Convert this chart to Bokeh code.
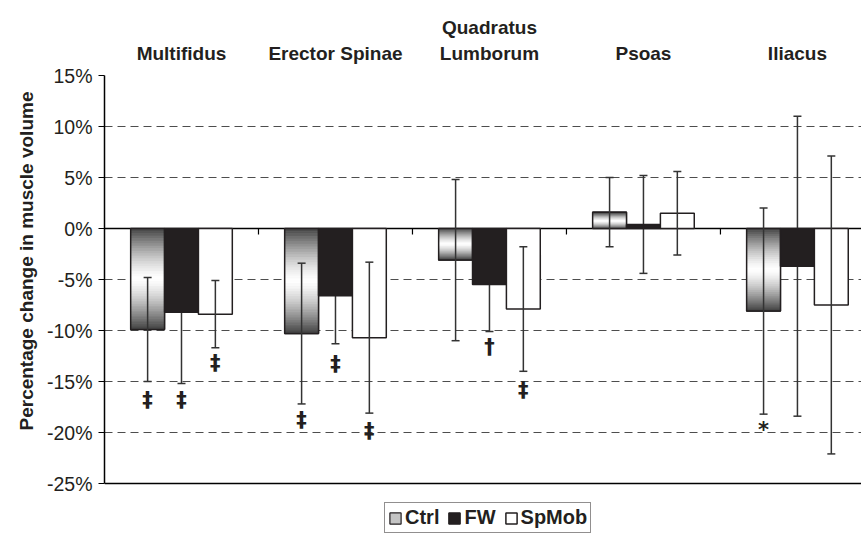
from bokeh.plotting import figure
from bokeh.models import (Range1d, LinearAxis, FixedTicker, PrintfTickFormatter, Whisker,
                          TeeHead, ColumnDataSource, Span, Legend, LegendItem, Title)
from bokeh.core.properties import value
from bokeh.embed import file_html
from bokeh.resources import INLINE

# ---------------- data ----------------
categories = ["Multifidus", "Erector Spinae", "Quadratus\nLumborum", "Psoas", "Iliacus"]
series_names = ["Ctrl", "FW", "SpMob"]
ctrl = [-9.9, -10.3, -3.1, 1.6, -8.1]
ctrl_err = [5.1, 6.9, 7.9, 3.4, 10.1]
fw = [-8.2, -6.6, -5.5, 0.4, -3.7]
fw_err = [7.0, 4.7, 4.6, 4.8, 14.7]
spmob = [-8.4, -10.7, -7.9, 1.5, -7.5]
spmob_err = [3.3, 7.4, 6.1, 4.1, 14.6]
y_ticks = [-25, -20, -15, -10, -5, 0, 5, 10, 15]
grid_ticks = [-20, -15, -10, -5, 5, 10]
y_min, y_max = -25, 15
y_title = "Percentage change in muscle volume"

# significance markers: (category index, series index, y position, symbol)
ann_group = [0, 0, 0, 1, 1, 1, 2, 2, 4]
ann_series = [0, 1, 2, 0, 1, 2, 1, 2, 0]
ann_y = [-16.8, -16.8, -13.2, -18.8, -13.3, -19.9, -11.6, -15.8, -19.8]
ann_sym = ["‡", "‡", "‡", "‡", "‡", "‡", "†", "‡", "*"]

# ---------------- styling ----------------
FONT = "Liberation Sans"
BAR_W = 0.22
OFFSETS = [-0.22, 0.0, 0.22]
DARK = "#231f20"
ERR = "#333333"

n = len(categories)
centers = [i + 0.5 for i in range(n)]

# the frame extends below -25% to leave room for the legend
p = figure(width=861, height=534, x_range=Range1d(0, 4.916), y_range=Range1d(-30, 15),
           output_backend="svg", toolbar_location=None, x_axis_location=None,
           min_border_left=104, min_border_right=0, min_border_top=75, min_border_bottom=0,
           background_fill_color="white", border_fill_color="white")
p.outline_line_color = None

# grid
p.xgrid.visible = False
p.ygrid.ticker = FixedTicker(ticks=grid_ticks)
p.ygrid.grid_line_color = "#4d4d4d"
p.ygrid.grid_line_dash = "8 5"
p.ygrid.grid_line_width = 1.2

# y axis
p.yaxis.bounds = (y_min, y_max)
p.yaxis.ticker = FixedTicker(ticks=y_ticks)
p.yaxis.formatter = PrintfTickFormatter(format="%d%%")
p.yaxis.major_label_text_font = FONT
p.yaxis.major_label_text_font_size = "19.5px"
p.yaxis.major_label_text_color = DARK
p.yaxis.axis_line_color = "black"
p.yaxis.axis_line_width = 1.5
p.yaxis.major_tick_line_color = "black"
p.yaxis.major_tick_line_width = 1.2
p.yaxis.major_tick_out = 6
p.yaxis.major_tick_in = 0
p.yaxis.minor_tick_line_color = None
p.yaxis.major_label_standoff = 6

# y title, placed to match the original (starting near the bottom of the axis)
ttl = Title(text=y_title, align="left", offset=104, standoff=14,
            text_font=FONT, text_font_style="bold", text_font_size="19px",
            text_color=DARK)
p.add_layout(ttl, "left")

# top category axis
top = LinearAxis(ticker=FixedTicker(ticks=centers),
                 major_label_overrides={c: lab for c, lab in zip(centers, categories)})
top.axis_line_color = None
top.major_tick_line_color = None
top.minor_tick_line_color = None
top.major_label_text_font = FONT
top.major_label_text_font_style = "bold"
top.major_label_text_font_size = "19px"
top.major_label_text_color = DARK
top.major_label_standoff = 6
p.add_layout(top, "above")

# zero line, bottom line and category separators
p.add_layout(Span(location=0, dimension="width", line_color="black", line_width=1.5, level="underlay"))
p.add_layout(Span(location=y_min, dimension="width", line_color="black", line_width=1.5))
bounds = [float(i) for i in range(1, n)]
p.segment(x0=bounds, y0=[0] * len(bounds), x1=bounds, y1=[-0.6] * len(bounds),
          line_color="black", line_width=1.2)

# Ctrl bars: base (legend swatch), vertical gradient dark - white - dark, outline
ctrl_x = [c + OFFSETS[0] for c in centers]
r_ctrl = p.vbar(x=ctrl_x, top=ctrl, bottom=0, width=BAR_W, fill_color="#c4c4c4",
                line_color=DARK, line_width=1.2)
N = 40
qx0, qx1, qb, qt, qc = [], [], [], [], []
for i, v in enumerate(ctrl):
    xc = ctrl_x[i]
    for k in range(N):
        a = v * k / N
        b = v * (k + 1) / N
        t = (k + 0.5) / N
        d = abs(2 * t - 1)
        lvl = int(round(255 - 190 * d ** 1.4))
        qx0.append(xc - BAR_W / 2)
        qx1.append(xc + BAR_W / 2)
        qb.append(min(a, b))
        qt.append(max(a, b))
        qc.append("#%02x%02x%02x" % (lvl, lvl, lvl))
p.quad(left=qx0, right=qx1, bottom=qb, top=qt, fill_color=qc, line_color=qc, line_width=0.8)
p.vbar(x=ctrl_x, top=ctrl, bottom=0, width=BAR_W, fill_color=None,
       line_color=DARK, line_width=1.5)

fw_x = [c + OFFSETS[1] for c in centers]
r_fw = p.vbar(x=fw_x, top=fw, bottom=0, width=BAR_W, fill_color=DARK,
              line_color=DARK, line_width=1.5)
sp_x = [c + OFFSETS[2] for c in centers]
r_sp = p.vbar(x=sp_x, top=spmob, bottom=0, width=BAR_W, fill_color="white",
              line_color=DARK, line_width=1.5)

# error bars (FW ones sit behind the black bars, as in the original)
for xs, vals, errs, lvl_name in [(ctrl_x, ctrl, ctrl_err, "overlay"),
                                 (fw_x, fw, fw_err, "underlay"),
                                 (sp_x, spmob, spmob_err, "overlay")]:
    src = ColumnDataSource(dict(x=xs, upper=[v + e for v, e in zip(vals, errs)],
                                lower=[v - e for v, e in zip(vals, errs)]))
    w = Whisker(base="x", upper="upper", lower="lower", source=src,
                line_color=ERR, line_width=1.5, level=lvl_name,
                upper_head=TeeHead(size=8, line_color=ERR, line_width=1.5),
                lower_head=TeeHead(size=8, line_color=ERR, line_width=1.5))
    p.add_layout(w)

# significance markers
ann_x = [centers[g] + OFFSETS[s] for g, s in zip(ann_group, ann_series)]
p.text(x=ann_x, y=ann_y, text=ann_sym, text_font=value("DejaVu Sans"), text_font_style="bold",
       text_font_size="21px", text_align="center", text_baseline="middle", text_color=DARK)

legend = Legend(items=[LegendItem(label=series_names[0], renderers=[r_ctrl]),
                       LegendItem(label=series_names[1], renderers=[r_fw]),
                       LegendItem(label=series_names[2], renderers=[r_sp])],
                orientation="horizontal", location=(280, 1))
legend.label_text_font = FONT
legend.label_text_font_style = "bold"
legend.label_text_font_size = "20px"
legend.label_text_color = DARK
legend.glyph_width = 14
legend.glyph_height = 14
legend.label_standoff = 3
legend.spacing = 8
legend.padding = 3
legend.margin = 0
legend.border_line_color = DARK
legend.border_line_width = 1.5
legend.background_fill_alpha = 1
p.add_layout(legend)

open("out.html", "w").write(file_html(p, INLINE))
